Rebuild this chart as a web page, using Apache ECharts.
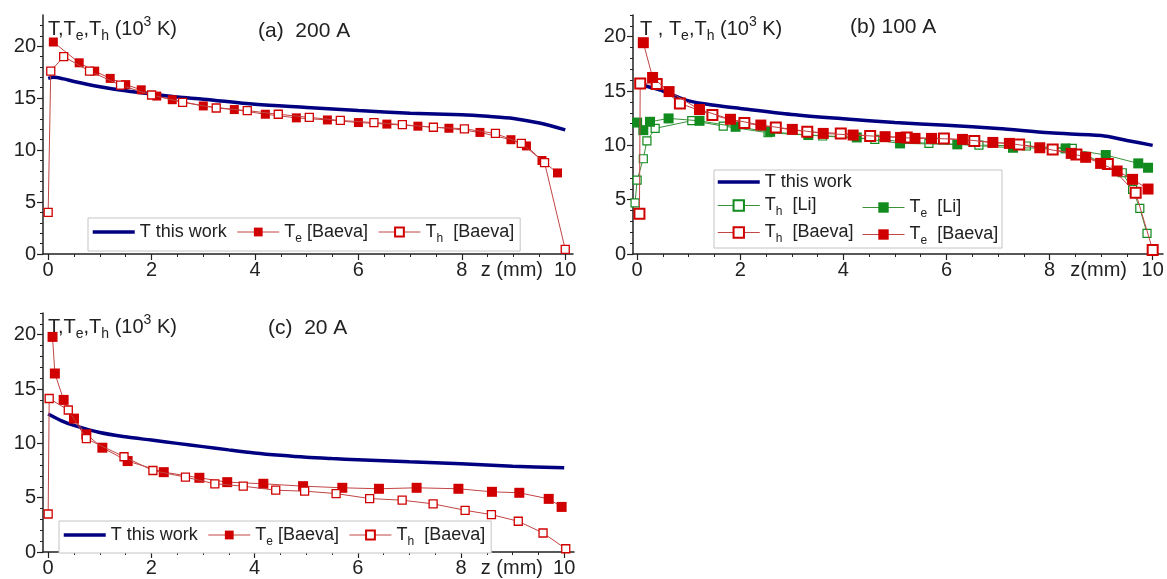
<!DOCTYPE html>
<html><head><meta charset="utf-8">
<script src="https://cdn.jsdelivr.net/npm/echarts@6/dist/echarts.min.js"></script>
<style>html,body{margin:0;padding:0;background:#fff}#c{width:1167px;height:579px}</style>
</head><body><div id="c"></div>
<script>
// ---------- data (z in mm, T in 10^3 K) ----------
// panel (a) 200 A
const aT_z  = [0, 0.1, 0.3, 0.5, 1, 1.5, 2, 2.5, 3, 4, 5, 6, 7, 8, 8.5, 9, 9.5, 10];
const aT_v  = [16.9, 17.0, 16.85, 16.6, 16.1, 15.7, 15.4, 15.1, 14.9, 14.4, 14.1, 13.8, 13.55, 13.4, 13.25, 13.05, 12.6, 11.95];
const aTe_z = [0.1, 0.6, 0.9, 1.2, 1.5, 1.8, 2.1, 2.4, 3.0, 3.6, 4.2, 4.8, 5.4, 6.0, 6.55, 7.15, 7.75, 8.35, 8.95, 9.25, 9.55, 9.85];
const aTe_v = [20.4, 18.4, 17.6, 16.9, 16.3, 15.8, 15.2, 14.85, 14.25, 13.9, 13.45, 13.1, 12.9, 12.65, 12.5, 12.3, 12.1, 11.7, 11.0, 10.4, 9.0, 7.8];
const aTh_z = [0.0, 0.05, 0.3, 0.8, 1.4, 2.0, 2.6, 3.25, 3.85, 4.45, 5.05, 5.65, 6.3, 6.85, 7.45, 8.05, 8.65, 9.15, 9.6, 10.0];
const aTh_v = [4.0, 17.6, 19.0, 17.6, 16.25, 15.3, 14.6, 14.05, 13.8, 13.45, 13.15, 12.85, 12.65, 12.45, 12.2, 12.05, 11.6, 10.65, 8.8, 0.45];
// panel (b) 100 A
const bT_z    = [0, 0.25, 0.5, 1, 1.5, 2, 3, 4, 5, 6, 7, 8, 9, 9.5, 10];
const bT_v    = [15.7, 15.35, 15.0, 14.1, 13.7, 13.4, 12.85, 12.45, 12.1, 11.85, 11.55, 11.15, 10.9, 10.45, 10.0];
const bThLi_z = [-0.04, 0.0, 0.12, 0.19, 0.35, 1.06, 1.67, 2.54, 3.6, 4.61, 5.66, 6.63, 7.55, 8.44, 9.41, 9.61, 9.75, 9.89];
const bThLi_v = [4.7, 6.8, 8.77, 10.42, 11.56, 12.27, 11.78, 11.16, 10.86, 10.55, 10.18, 10.03, 9.94, 9.72, 7.48, 5.95, 4.2, 1.9];
const bTeLi_z = [0.0, 0.12, 0.25, 0.61, 1.21, 1.91, 2.58, 3.32, 4.26, 5.10, 6.21, 7.29, 8.31, 9.09, 9.72, 9.91];
const bTeLi_v = [12.1, 11.4, 12.17, 12.48, 12.26, 11.71, 11.25, 10.95, 10.73, 10.18, 10.09, 9.78, 9.72, 9.11, 8.34, 7.94];
const bThB_z  = [0.045, 0.06, 0.38, 0.83, 1.46, 2.08, 2.69, 3.3, 3.95, 4.52, 5.23, 5.95, 6.54, 7.41, 8.06, 8.52, 9.13, 9.67, 10.0];
const bThB_v  = [3.7, 15.7, 15.64, 13.86, 12.79, 12.05, 11.64, 11.25, 11.1, 10.86, 10.73, 10.64, 10.4, 10.09, 9.63, 9.17, 8.28, 5.64, 0.37];
const bTeB_z  = [0.12, 0.3, 0.62, 1.21, 1.81, 2.4, 3.01, 3.61, 4.19, 4.81, 5.11, 5.39, 5.71, 6.31, 6.9, 7.22, 7.81, 8.42, 8.7, 8.99, 9.31, 9.61, 9.91];
const bTeB_v  = [19.45, 16.25, 14.95, 13.3, 12.4, 11.87, 11.47, 11.1, 10.95, 10.8, 10.73, 10.64, 10.64, 10.55, 10.27, 10.18, 9.78, 9.26, 8.9, 8.34, 7.64, 6.87, 5.98];
// panel (c) 20 A
const cT_z  = [0, 0.25, 0.5, 1, 1.5, 2, 2.5, 3, 3.5, 4, 4.5, 5, 5.5, 6, 6.5, 7, 8, 9, 10];
const cT_v  = [12.7, 12.1, 11.65, 11.0, 10.6, 10.3, 10.0, 9.7, 9.4, 9.12, 8.9, 8.72, 8.6, 8.5, 8.4, 8.3, 8.12, 7.9, 7.75];
const cTe_z = [0.085, 0.13, 0.3, 0.5, 0.74, 1.05, 1.54, 2.24, 2.93, 3.47, 4.17, 4.94, 5.7, 6.41, 7.14, 7.95, 8.6, 9.13, 9.7, 9.95];
const cTe_v = [19.8, 16.43, 14.0, 12.28, 10.83, 9.6, 8.37, 7.35, 6.83, 6.43, 6.28, 6.06, 5.91, 5.82, 5.91, 5.82, 5.54, 5.45, 4.89, 4.15];
const cTh_z = [0, 0.02, 0.39, 0.74, 1.47, 2.03, 2.66, 3.23, 3.78, 4.41, 4.97, 5.58, 6.23, 6.86, 7.46, 8.08, 8.59, 9.11, 9.59, 10.03];
const cTh_v = [3.5, 14.13, 13.07, 10.43, 8.77, 7.5, 6.89, 6.28, 6.06, 5.69, 5.6, 5.38, 4.92, 4.77, 4.43, 3.84, 3.44, 2.83, 1.75, 0.3];

// tick labels
const xTickLabels = [0, 2, 4, 6, 8, 10];
const xMinorTicks = [0, 0.5, 1, 1.5, 2, 2.5, 3, 3.5, 4, 4.5, 5, 5.5, 6, 6.5, 7, 7.5, 8, 8.5, 9, 9.5, 10];
const yTickLabels = [0, 5, 10, 15, 20];
const yMinorTicks = [0,1,2,3,4,5,6,7,8,9,10,11,12,13,14,15,16,17,18,19,20,21,22];

const panelTitles = ['(a)  200 A', '(b) 100 A', '(c)  20 A'];
const yNames = [
  '{n|T,T}{s|e}{n|,T}{s|h}{n| (10}{p|3}{n| K)}',
  '{n|T , T}{s|e}{n|,T}{s|h}{n| (10}{p|3}{n| K)}',
  '{n|T,T}{s|e}{n|,T}{s|h}{n| (10}{p|3}{n| K)}'
];
const xNames = ['z (mm)', 'z(mm)', 'z (mm)'];
const legendText = {
  a_T: '{n|T this work}', a_Te: '{n|T}{s|e}{n| [Baeva]}', a_Th: '{n|T}{s|h}{n|  [Baeva]}',
  b_T: '{n|T this work}', b_ThLi: '{n|T}{s|h}{n|  [Li]}', b_TeLi: '{n|T}{s|e}{n|  [Li]}',
  b_ThB: '{n|T}{s|h}{n|  [Baeva]}', b_TeB: '{n|T}{s|e}{n|  [Baeva]}',
  c_T: '{n|T this work}', c_Te: '{n|T}{s|e}{n| [Baeva]}', c_Th: '{n|T}{s|h}{n|  [Baeva]}'
};

// ---------- styling ----------
const FONT = '"Liberation Sans", Arial, sans-serif';
const INK = '#222';
const NAVY = '#000080';
const RED = '#d00000', REDLINE = '#c24545';
const GREEN = '#118a1e', GREENLINE = '#3a923a';

function pts(z, v) { return z.map((x, i) => [x, v[i]]); }
function rich(fs, lh) {
  return {
    n: {fontSize: fs, lineHeight: lh, fontFamily: FONT, color: INK},
    s: {fontSize: Math.round(fs * 0.68), lineHeight: 12, verticalAlign: 'bottom', fontFamily: FONT, color: INK},
    p: {fontSize: Math.round(fs * 0.68), lineHeight: 12, verticalAlign: 'top', fontFamily: FONT, color: INK}
  };
}

const grids = [
  {left: 43, top: 15, width: 530, height: 239},
  {left: 633, top: 15, width: 530, height: 239},
  {left: 43, top: 313, width: 531, height: 239}
];
const xRange = [[-0.1, 10.15], [-0.08, 10.2], [-0.1, 10.19]];
const yRange = [[0, 23], [0, 22], [0, 22]];
const xNameGap = [-30, -36, -31];
const yNamePad = [5, 7, 5];

const xAxes = [], yAxes = [];
grids.forEach((g, i) => {
  xAxes.push({
    type: 'value', gridIndex: i, min: xRange[i][0], max: xRange[i][1], position: 'bottom',
    axisLine: {show: true, onZero: false, lineStyle: {color: INK, width: 1.5}},
    axisTick: {show: true, customValues: xTickLabels, length: 6, lineStyle: {color: INK, width: 1.2}},
    axisLabel: {customValues: xTickLabels, margin: 6, fontSize: 20, color: INK, fontFamily: FONT},
    splitLine: {show: false},
    name: xNames[i], nameLocation: 'end', nameGap: xNameGap[i],
    nameTextStyle: {align: 'right', verticalAlign: 'top', padding: [6, 0, 0, 0], fontSize: 20, color: INK, fontFamily: FONT}
  });
  xAxes.push({
    type: 'value', gridIndex: i, min: xRange[i][0], max: xRange[i][1], position: 'top', offset: -g.height,
    axisLine: {show: false, onZero: false},
    axisTick: {show: true, inside: true, customValues: xMinorTicks, length: 3, lineStyle: {color: INK, width: 1}},
    axisLabel: {show: false}, splitLine: {show: false}
  });
  yAxes.push({
    type: 'value', gridIndex: i, min: yRange[i][0], max: yRange[i][1], position: 'left',
    axisLine: {show: true, onZero: false, lineStyle: {color: INK, width: 1.5}},
    axisTick: {show: true, customValues: yTickLabels, length: 6, lineStyle: {color: INK, width: 1.2}},
    axisLabel: {customValues: yTickLabels, margin: 7, fontSize: 20, color: INK, fontFamily: FONT},
    splitLine: {show: false},
    name: yNames[i], nameLocation: 'end', nameGap: -14,
    nameTextStyle: {align: 'left', verticalAlign: 'middle', padding: [0, 0, 0, yNamePad[i]], rich: rich(20, 28)}
  });
  yAxes.push({
    type: 'value', gridIndex: i, min: yRange[i][0], max: yRange[i][1], position: 'right', offset: -g.width,
    axisLine: {show: false, onZero: false},
    axisTick: {show: true, inside: true, customValues: yMinorTicks, length: 3, lineStyle: {color: INK, width: 1}},
    axisLabel: {show: false}, splitLine: {show: false}
  });
});

function lineSeries(name, panel, data, o) {
  return {
    type: 'line', name: name, xAxisIndex: panel * 2, yAxisIndex: panel * 2, data: data,
    symbol: o.symbol || 'none', symbolSize: o.size || 8, smooth: o.smooth || false,
    lineStyle: {color: o.line, width: o.width || 1},
    itemStyle: {color: o.fill || o.line, borderColor: o.border || o.line, borderWidth: o.bw || 0},
    z: o.z || 2, animation: false, silent: true
  };
}

const series = [
  lineSeries('a_T', 0, pts(aT_z, aT_v), {line: NAVY, width: 3.5, smooth: 0.3, z: 1}),
  lineSeries('a_Te', 0, pts(aTe_z, aTe_v), {line: REDLINE, symbol: 'rect', size: 9, fill: RED, border: RED, bw: 0, z: 2}),
  lineSeries('a_Th', 0, pts(aTh_z, aTh_v), {line: REDLINE, symbol: 'rect', size: 8, fill: '#fff', border: RED, bw: 1.3, z: 3}),

  lineSeries('b_T', 1, pts(bT_z, bT_v), {line: NAVY, width: 3.5, smooth: 0.3, z: 1}),
  lineSeries('b_ThLi', 1, pts(bThLi_z, bThLi_v), {line: GREENLINE, symbol: 'rect', size: 8, fill: '#fff', border: GREEN, bw: 1.2, z: 2}),
  lineSeries('b_TeLi', 1, pts(bTeLi_z, bTeLi_v), {line: GREENLINE, symbol: 'rect', size: 10, fill: GREEN, border: GREEN, bw: 0, z: 3}),
  lineSeries('b_ThB', 1, pts(bThB_z, bThB_v), {line: REDLINE, symbol: 'rect', size: 10, fill: '#fff', border: RED, bw: 2, z: 4}),
  lineSeries('b_TeB', 1, pts(bTeB_z, bTeB_v), {line: REDLINE, symbol: 'rect', size: 11, fill: RED, border: RED, bw: 0, z: 5}),

  lineSeries('c_T', 2, pts(cT_z, cT_v), {line: NAVY, width: 3.5, smooth: 0.3, z: 1}),
  lineSeries('c_Te', 2, pts(cTe_z, cTe_v), {line: REDLINE, symbol: 'rect', size: 10, fill: RED, border: RED, bw: 0, z: 2}),
  lineSeries('c_Th', 2, pts(cTh_z, cTh_v), {line: REDLINE, symbol: 'rect', size: 8, fill: '#fff', border: RED, bw: 1.3, z: 3})
];

function legendItem(name) {
  if (name.endsWith('_T')) return {name: name, itemStyle: {color: 'rgba(0,0,0,0)', borderWidth: 0, opacity: 0}};
  return {name: name};
}
function legend(names, opts) {
  return Object.assign({
    data: names.map(legendItem), selectedMode: false,
    formatter: (n) => legendText[n],
    itemWidth: 42, itemHeight: 11, itemGap: 10,
    lineStyle: {width: 'inherit'},
    textStyle: {rich: rich(18, 26), color: INK}
  }, opts);
}

const option = {
  animation: false,
  backgroundColor: '#fff',
  grid: grids.map(g => Object.assign({containLabel: false}, g)),
  xAxis: xAxes,
  yAxis: yAxes,
  title: [
    {text: panelTitles[0], left: 258, top: 21, padding: 0, textStyle: {fontSize: 21, fontWeight: 'normal', color: INK, fontFamily: FONT}},
    {text: panelTitles[1], left: 850, top: 17, padding: 0, textStyle: {fontSize: 21, fontWeight: 'normal', color: INK, fontFamily: FONT}},
    {text: panelTitles[2], left: 268, top: 318, padding: 0, textStyle: {fontSize: 21, fontWeight: 'normal', color: INK, fontFamily: FONT}}
  ],
  legend: [
    legend(['a_T', 'a_Te', 'a_Th'], {left: 88, top: 218, orient: 'horizontal', padding: [5, 6, 6, 3],
      borderColor: '#c4c4c4', borderWidth: 1, backgroundColor: '#fff'}),
    legend(['b_T', 'b_ThLi', 'b_ThB'], {left: 716, top: 173, orient: 'vertical', padding: 0, itemGap: 5.5,
      itemHeight: 13, textStyle: {rich: rich(18, 25), color: INK}}),
    legend(['b_TeLi', 'b_TeB'], {left: 862, top: 198.5, orient: 'vertical', padding: 0, itemGap: 5.5,
      itemHeight: 13, textStyle: {rich: rich(18, 25), color: INK}}),
    legend(['c_T', 'c_Te', 'c_Th'], {left: 59, top: 521, orient: 'horizontal', padding: [5, 6, 5, 3],
      borderColor: '#c4c4c4', borderWidth: 1, backgroundColor: '#fff'})
  ],
  graphic: [
    {type: 'rect', shape: {x: 714, y: 170, width: 288, height: 78}, style: {fill: 'none', stroke: '#c4c4c4', lineWidth: 1}, z: 10}
  ],
  series: series
};

const chart = echarts.init(document.getElementById('c'), null, {renderer: 'canvas'});
chart.setOption(option);
</script>
</body></html>
